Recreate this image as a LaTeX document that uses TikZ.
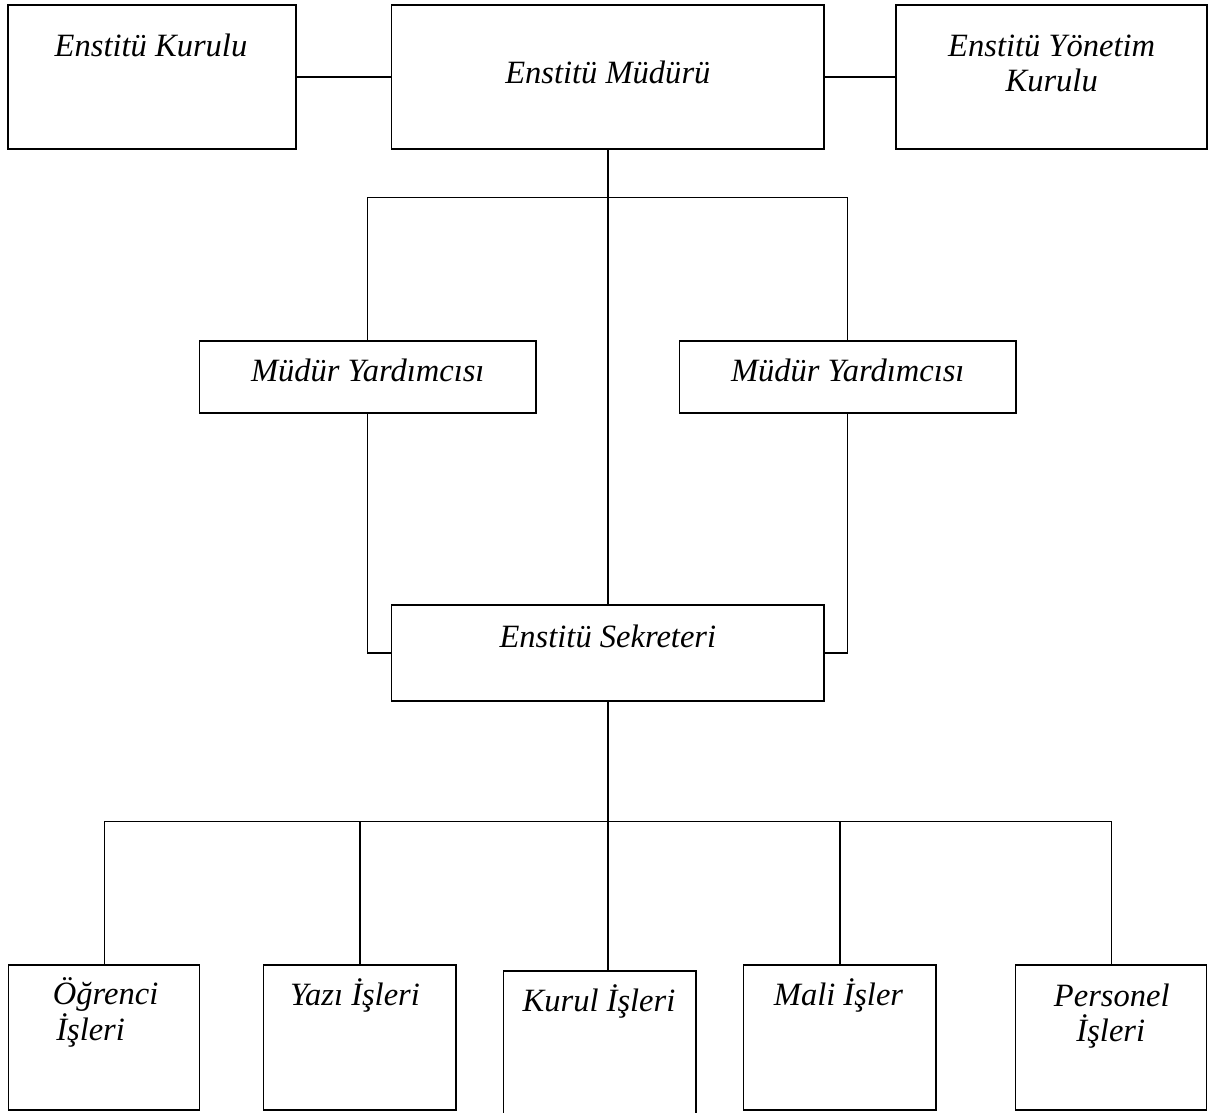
\documentclass[tikz,border=0pt]{standalone}
\usepackage{fontspec}
\setmainfont{Liberation Serif}
\begin{document}
\begin{tikzpicture}[x=0.75pt,y=-0.75pt,
  box/.style={draw=black,line width=1pt,inner sep=0pt,outer sep=0pt,fill=white},
  lbl/.style={inner sep=0pt,anchor=base,font=\fontsize{24.4}{26}\selectfont\itshape},
  conn/.style={draw=black,line width=1pt}]
\useasboundingbox (0,0) rectangle (1208,1113);
\clip (0,0) rectangle (1208,1113);
% top row
\node[box,minimum width=216pt,minimum height=108pt] (kurulu) at (152,77) {};
\node[box,minimum width=324.2pt,minimum height=108pt] (mudur) at (607.85,77) {};
\node[box,minimum width=233.25pt,minimum height=108pt] (yonetim) at (1051.5,77) {};
% deputies
\node[box,minimum width=252.4pt,minimum height=54pt] (myl) at (367.75,377) {};
\node[box,minimum width=252.4pt,minimum height=54pt] (myr) at (847.75,377) {};
% secretary
\node[box,minimum width=324.2pt,minimum height=72pt] (sek) at (607.85,653) {};
% bottom row
\node[box,minimum width=143.25pt,minimum height=108.75pt] (ogr) at (104.2,1037.5) {};
\node[box,minimum width=144.2pt,minimum height=108.75pt] (yazi) at (359.85,1037.5) {};
\node[box,minimum width=144.5pt,minimum height=115.5pt] (kurulis) at (599.65,1048) {};
\node[box,minimum width=144.2pt,minimum height=108.75pt] (mali) at (839.85,1037.5) {};
\node[box,minimum width=143.3pt,minimum height=108.75pt] (pers) at (1111.25,1037.5) {};
% bus coordinates
\coordinate (busT) at (607.85,197.7);
\coordinate (busB) at (607.85,821.7);
% connectors
\draw[conn] (kurulu.east) -- (mudur.west);
\draw[conn] (mudur.east) -- (yonetim.west);
\draw[conn] (mudur.south) -- (sek.north);
\draw[conn] (myl.north) -- (myl.north |- busT) -- (myr.north |- busT) -- (myr.north);
\draw[conn] (myl.south) |- (sek.west);
\draw[conn] (myr.south) |- (sek.east);
\draw[conn] (sek.south) -- (sek.south |- kurulis.north);
\draw[conn] (ogr.north) |- (busB) -| (pers.north);
\draw[conn] (yazi.north) -- (yazi.north |- busB);
\draw[conn] (mali.north) -- (mali.north |- busB);
% texts
\node[lbl] (t1) at (151,57) {Enstitü Kurulu};
\node[lbl] (t2) at (607.85,84) {Enstitü Müdürü};
\node[lbl] (t3a) at (1051.7,56.7) {Enstitü Yönetim};
\node[lbl] (t3b) at (1051.7,91.7) {Kurulu};
\node[lbl] (t4) at (367.75,381.7) {Müdür Yardımcısı};
\node[lbl] (t5) at (847.75,381.7) {Müdür Yardımcısı};
\node[lbl] (t6) at (607.85,647) {Enstitü Sekreteri};
\node[lbl,anchor=base west] (t7a) at (52.7,1004) {Öğrenci};
\node[lbl,anchor=base west] (t7b) at (56,1040) {İşleri};
\node[lbl] (t8) at (355,1005) {Yazı İşleri};
\node[lbl] (t9) at (599,1011) {Kurul İşleri};
\node[lbl] (t10) at (838.5,1005) {Mali İşler};
\node[lbl] (t11a) at (1111.8,1006) {Personel};
\node[lbl] (t11b) at (1110.8,1041) {İşleri};
\end{tikzpicture}
\end{document}
